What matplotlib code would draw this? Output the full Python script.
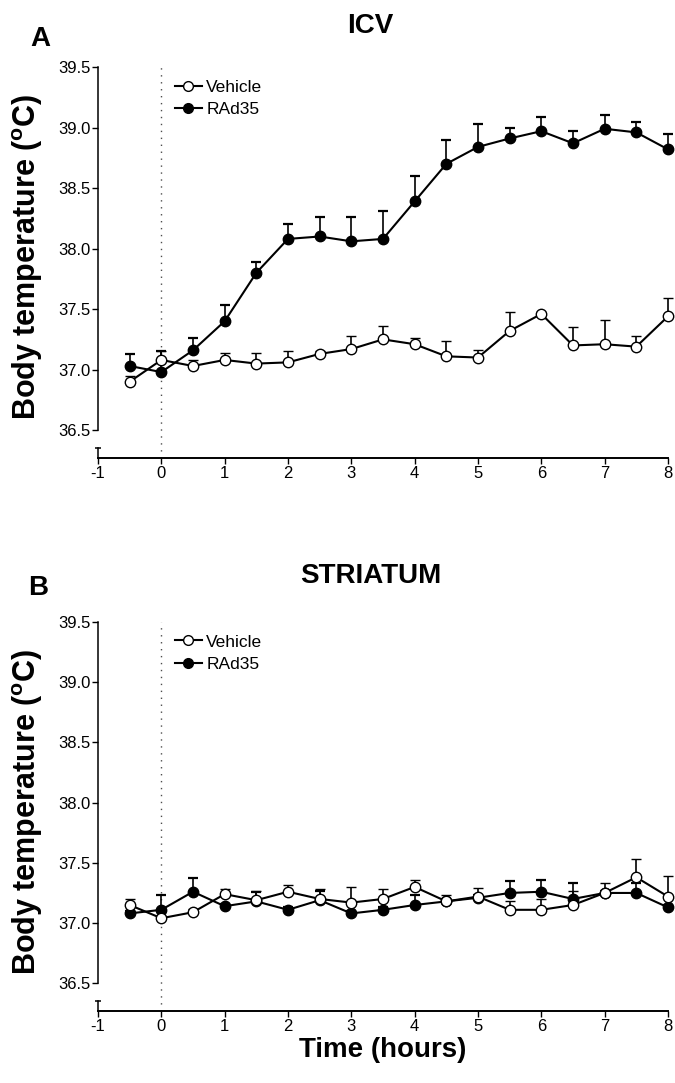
import numpy as np
import matplotlib.pyplot as plt
from matplotlib.lines import Line2D

plt.rcParams['font.family'] = ['Liberation Sans', 'DejaVu Sans']
plt.rcParams['mathtext.fontset'] = 'custom'
plt.rcParams['mathtext.rm'] = 'Liberation Sans'
plt.rcParams['mathtext.bf'] = 'Liberation Sans:bold'
plt.rcParams['axes.unicode_minus'] = False

# time points (hours)
hours = [-0.5, 0, 0.5, 1, 1.5, 2, 2.5, 3, 3.5, 4, 4.5, 5, 5.5, 6, 6.5, 7, 7.5, 8]

# panel A - ICV
icv_vehicle = [36.90, 37.08, 37.03, 37.08, 37.05, 37.06, 37.13, 37.17, 37.25, 37.21,
               37.11, 37.10, 37.32, 37.46, 37.20, 37.21, 37.19, 37.44]
icv_vehicle_err = [0.05, 0.07, 0.05, 0.06, 0.09, 0.09, 0.02, 0.11, 0.11, 0.05,
                   0.13, 0.06, 0.16, 0.02, 0.15, 0.20, 0.09, 0.15]
icv_rad35 = [37.03, 36.98, 37.16, 37.40, 37.80, 38.08, 38.10, 38.06, 38.08, 38.39,
             38.70, 38.84, 38.91, 38.97, 38.87, 38.99, 38.96, 38.82]
icv_rad35_err = [0.10, 0.17, 0.10, 0.13, 0.09, 0.12, 0.16, 0.20, 0.23, 0.21,
                 0.20, 0.19, 0.09, 0.12, 0.10, 0.11, 0.09, 0.13]

# panel B - striatum
str_vehicle = [37.15, 37.04, 37.09, 37.24, 37.19, 37.26, 37.20, 37.17, 37.20, 37.30,
               37.18, 37.22, 37.11, 37.11, 37.15, 37.25, 37.38, 37.22]
str_vehicle_err = [0.05, 0.02, 0.03, 0.04, 0.08, 0.06, 0.08, 0.13, 0.08, 0.06,
                   0.05, 0.07, 0.07, 0.09, 0.12, 0.08, 0.15, 0.17]
str_rad35 = [37.08, 37.11, 37.26, 37.14, 37.18, 37.11, 37.19, 37.08, 37.11, 37.15,
             37.18, 37.21, 37.25, 37.26, 37.20, 37.25, 37.25, 37.13]
str_rad35_err = [0.02, 0.12, 0.11, 0.02, 0.08, 0.02, 0.08, 0.02, 0.02, 0.08,
                 0.02, 0.02, 0.10, 0.10, 0.13, 0.02, 0.08, 0.02]

yticks = [36.5, 37.0, 37.5, 38.0, 38.5, 39.0, 39.5]
xticks = [-1, 0, 1, 2, 3, 4, 5, 6, 7, 8]
YLO = 36.27

fig = plt.figure(figsize=(6.75, 10.83), dpi=100)
axA = fig.add_axes([0.1452, 0.5771, 0.8444, 0.3610])
axB = fig.add_axes([0.1452, 0.0665, 0.8444, 0.3592])

MS = 7.5


def draw_panel(ax, veh, veh_err, rad, rad_err):
    ax.axvline(0, color='0.3', ls=(0, (1, 4)), lw=1.0, zorder=1)
    t = np.array(hours)
    ax.errorbar(t, rad, yerr=[np.zeros(len(rad_err)), rad_err], color='k', lw=1.5,
                marker='o', ms=MS, mfc='k', mec='k', capsize=3.5, capthick=1.6,
                elinewidth=1.2, clip_on=False, zorder=3)
    ax.errorbar(t, veh, yerr=[np.zeros(len(veh_err)), veh_err], color='k', lw=1.5,
                marker='o', ms=MS, mfc='white', mec='k', mew=1.0, capsize=3.5,
                capthick=1.6, elinewidth=1.2, clip_on=False, zorder=4)
    ax.set_xlim(-1, 8)
    ax.set_ylim(YLO, 39.5)
    ax.set_xticks(xticks)
    ax.set_yticks(yticks)
    ax.set_yticklabels(['%.1f' % v for v in yticks])
    for s in ['top', 'right']:
        ax.spines[s].set_visible(False)
    ax.spines['left'].set_bounds(36.5, 39.5)
    ax.spines['left'].set_linewidth(1.1)
    ax.spines['bottom'].set_linewidth(1.4)
    ax.tick_params(axis='both', direction='out', length=4, width=1.0,
                   labelsize=12, pad=1.5)
    # broken-axis stub at bottom of y axis
    stub = YLO + 0.085
    ax.plot([-1, -1], [YLO, stub], color='k', lw=1.1, clip_on=False)
    ax.plot([-1], [stub], color='k', marker='_', ms=5, mew=1.1, clip_on=False)
    handles = [
        Line2D([], [], color='k', lw=1.5, marker='o', ms=MS - 0.5, mfc='white', mec='k'),
        Line2D([], [], color='k', lw=1.5, marker='o', ms=MS - 0.5, mfc='k', mec='k'),
    ]
    ax.legend(handles, ['Vehicle', 'RAd35'], loc='upper left',
              bbox_to_anchor=(0.135, 0.968), frameon=False, fontsize=12.5,
              handlelength=1.55, handletextpad=0.25, labelspacing=0.4,
              borderpad=0, borderaxespad=0)


draw_panel(axA, icv_vehicle, icv_vehicle_err, icv_rad35, icv_rad35_err)
draw_panel(axB, str_vehicle, str_vehicle_err, str_rad35, str_rad35_err)

ylab = r'Body temperature ($^{\mathbf{o}}$C)'
fig.text(0.0405, 0.7627, ylab, rotation=90, ha='center', va='center',
         fontsize=22, fontweight='bold')
fig.text(0.0405, 0.2502, ylab, rotation=90, ha='center', va='center',
         fontsize=22, fontweight='bold')

fig.text(0.549, 0.976, 'ICV', ha='center', va='center', fontsize=20, fontweight='bold')
fig.text(0.549, 0.468, 'STRIATUM', ha='center', va='center', fontsize=20, fontweight='bold')
fig.text(0.06, 0.964, 'A', ha='center', va='center', fontsize=20, fontweight='bold')
fig.text(0.057, 0.457, 'B', ha='center', va='center', fontsize=20, fontweight='bold')
fig.text(0.567, 0.0305, 'Time (hours)', ha='center', va='center', fontsize=20,
         fontweight='bold')

fig.savefig('out.png', dpi=100)
